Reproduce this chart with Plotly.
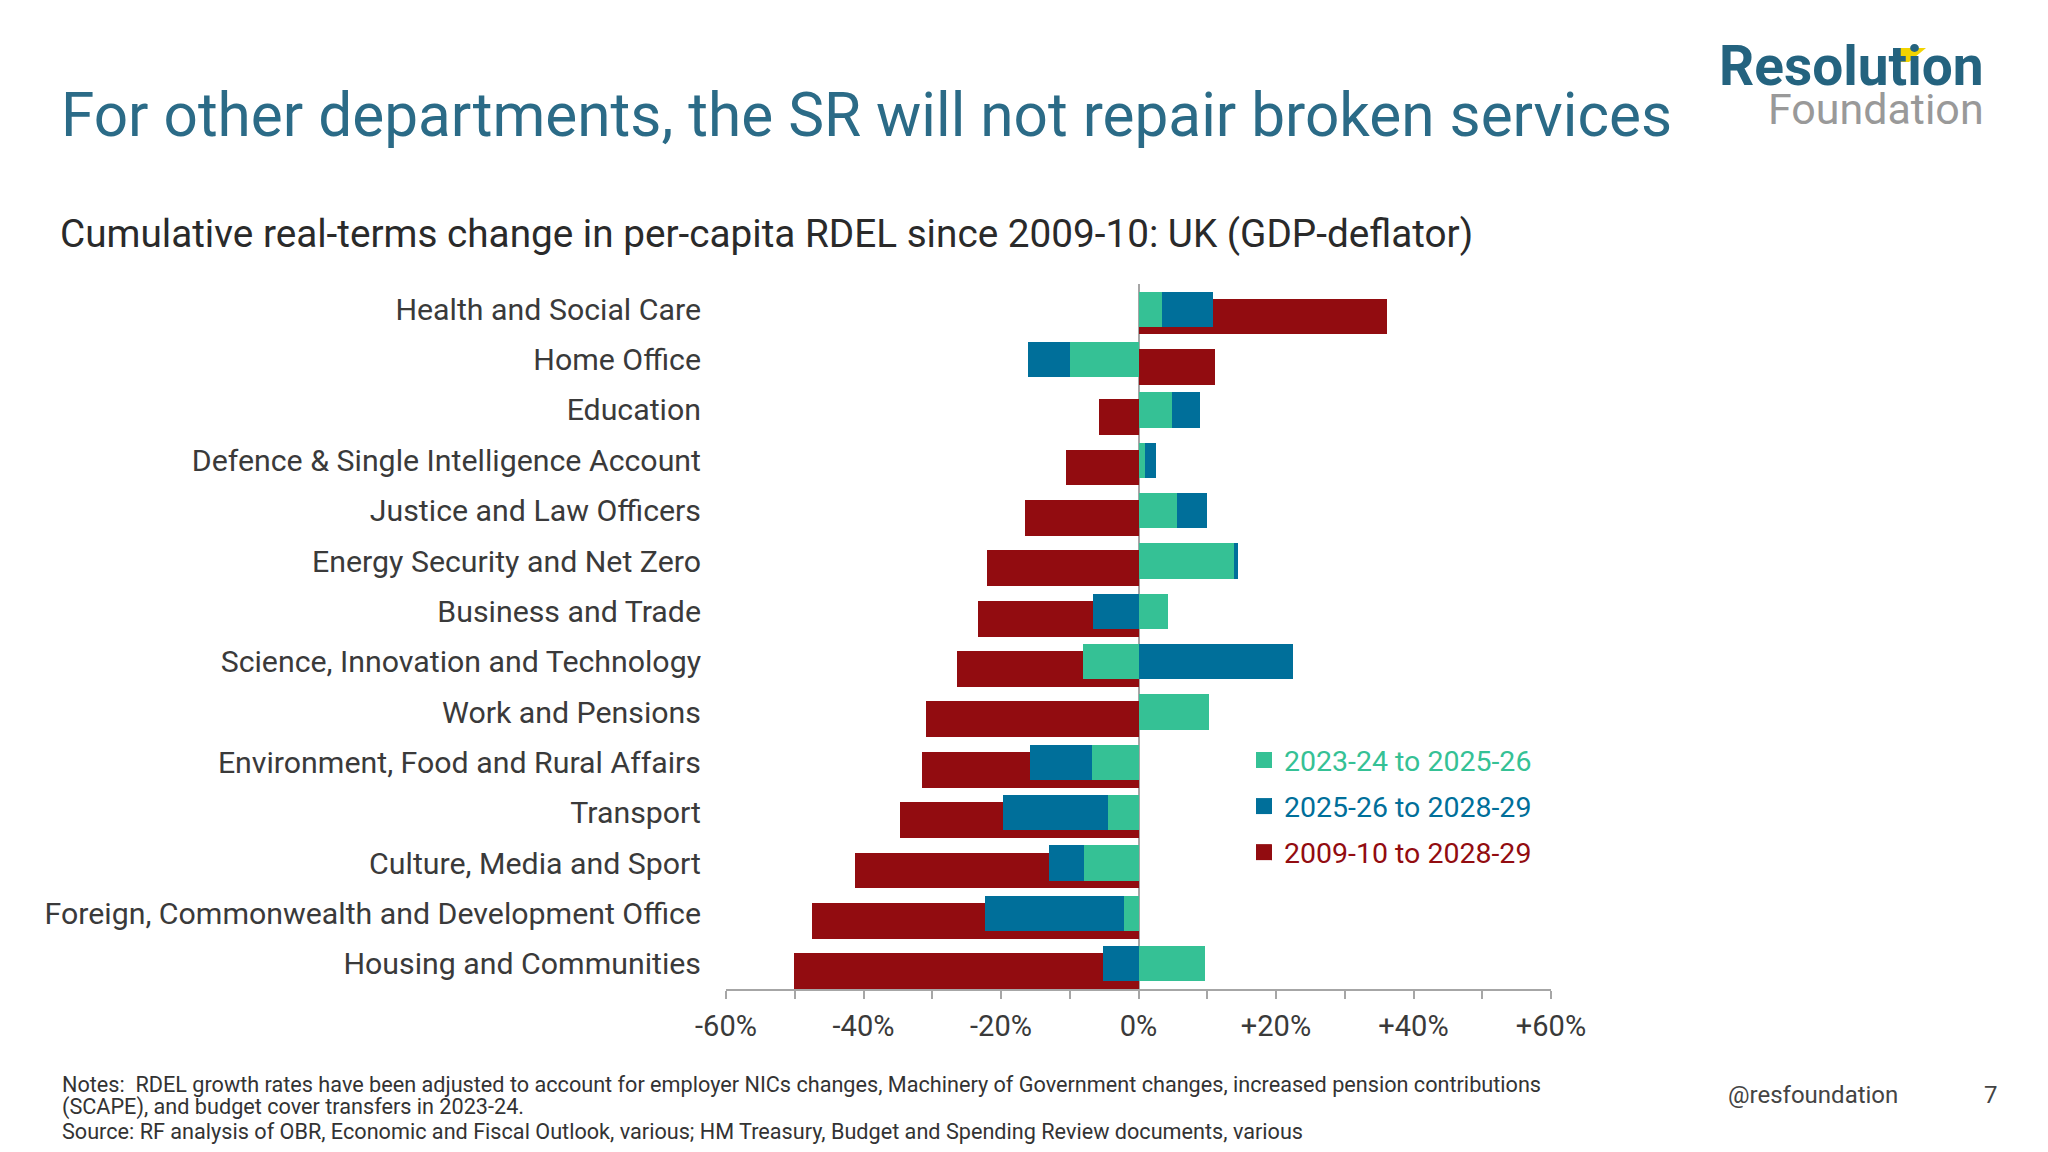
import plotly.graph_objects as go

# ---------------- data ----------------
departments = [
    "Health and Social Care",
    "Home Office",
    "Education",
    "Defence & Single Intelligence Account",
    "Justice and Law Officers",
    "Energy Security and Net Zero",
    "Business and Trade",
    "Science, Innovation and Technology",
    "Work and Pensions",
    "Environment, Food and Rural Affairs",
    "Transport",
    "Culture, Media and Sport",
    "Foreign, Commonwealth and Development Office",
    "Housing and Communities",
]
chg_2023_2025 = [3.4, -10.0, 4.9, 1.0, 5.6, 13.9, 4.3, -8.1, 10.2, -6.8, -4.5, -7.9, -2.1, 9.6]
chg_2025_2028 = [7.4, -6.1, 4.1, 1.5, 4.3, 0.5, -6.6, 22.5, 0.0, -9.0, -15.2, -5.1, -20.3, -5.1]
chg_2009_2028 = [36.1, 11.1, -5.7, -10.5, -16.5, -22.0, -23.4, -26.4, -30.9, -31.5, -34.7, -41.2, -47.5, -50.1]
series_names = ["2023-24 to 2025-26", "2025-26 to 2028-29", "2009-10 to 2028-29"]
x_tick_vals = [-60, -40, -20, 0, 20, 40, 60]
x_tick_text = ["-60%", "-40%", "-20%", "0%", "+20%", "+40%", "+60%"]

# ---------------- style ----------------
W_FIG, H_FIG = 2048, 1152
L, R, T, B = 718, 2048 - 1543, 276, 1152 - 981
PW, PH = W_FIG - L - R, H_FIG - T - B
TEAL, BLUE, RED = "#35c195", "#006f9a", "#920c10"
FONT = "Roboto, Lato, sans-serif"
TXT = "#3a3a3a"

def px(x):
    return (x - L) / PW

def py(y):
    return (H_FIG - B - y) / PH

pos = list(range(len(departments)))
red_pos = [p + 0.145 for p in pos]

fig = go.Figure()
fig.add_trace(go.Bar(y=red_pos, x=chg_2009_2028, orientation="h", width=0.71,
                     marker=dict(color=RED, line=dict(width=0)), showlegend=False))
fig.add_trace(go.Bar(y=pos, x=chg_2023_2025, orientation="h", width=0.70,
                     marker=dict(color=TEAL, line=dict(width=0)), showlegend=False))
fig.add_trace(go.Bar(y=pos, x=chg_2025_2028, orientation="h", width=0.70,
                     marker=dict(color=BLUE, line=dict(width=0)), showlegend=False))

# legend entries (square swatches, coloured text)
for name, col, rank in zip(series_names, [TEAL, BLUE, RED], [1, 2, 3]):
    fig.add_trace(go.Scatter(
        x=[None], y=[None], mode="markers",
        marker=dict(symbol="square", size=17, color=col),
        name=f"<span style='color:{col}'>{name}</span>",
        legendrank=rank, legendgroup=name, showlegend=True))

fig.update_layout(
    width=W_FIG, height=H_FIG,
    margin=dict(l=L, r=R, t=T, b=B),
    paper_bgcolor="white", plot_bgcolor="white",
    barmode="relative", bargap=0,
    font=dict(family=FONT, color=TXT),
    showlegend=True,
    legend=dict(x=px(1236), y=py(727), xanchor="left", yanchor="top",
                font=dict(size=28.5, family=FONT), bgcolor="rgba(0,0,0,0)",
                traceorder="grouped", tracegroupgap=6, itemwidth=30),
    xaxis=dict(range=[-60, 60], tickvals=x_tick_vals, ticktext=x_tick_text,
               showgrid=False, zeroline=True, zerolinecolor="#a6a6a6", zerolinewidth=1.5,
               showline=True, linecolor="#a6a6a6", linewidth=1.5,
               ticks="outside", ticklen=8, tickcolor="#a6a6a6", tickwidth=1.5,
               minor=dict(dtick=10, tick0=0, ticks="outside", ticklen=8,
                          tickcolor="#a6a6a6", tickwidth=1.5),
               tickfont=dict(size=29, color=TXT), ticklabelstandoff=2),
    yaxis=dict(range=[13.5, -0.5], tickvals=pos, ticktext=departments,
               showgrid=False, zeroline=False, showline=False, ticks="",
               tickfont=dict(size=30.3, color=TXT), ticklabelstandoff=24),
)

ann = [
    dict(text="For other departments, the SR will not repair broken services",
         x=px(51), y=py(107), font=dict(size=60.3, color="#2b6b87")),
    dict(text="Cumulative real-terms change in per-capita RDEL since 2009-10: UK (GDP-deflator)",
         x=px(50), y=py(225), font=dict(size=38.7, color="#2a2a2a")),
    dict(text="Notes:  RDEL growth rates have been adjusted to account for employer NICs changes, Machinery of Government changes, increased pension contributions",
         x=px(52), y=py(1076), font=dict(size=21.65, color="#333333")),
    dict(text="(SCAPE), and budget cover transfers in 2023-24.",
         x=px(52), y=py(1099), font=dict(size=21.65, color="#333333")),
    dict(text="Source: RF analysis of OBR, Economic and Fiscal Outlook, various; HM Treasury, Budget and Spending Review documents, various",
         x=px(52), y=py(1123), font=dict(size=21.65, color="#333333")),
    dict(text="@resfoundation", x=px(1718), y=py(1087), font=dict(size=24, color="#444444")),
    dict(text="7", x=px(1974), y=py(1087), font=dict(size=24, color="#444444")),
]
for a in ann:
    fig.add_annotation(xref="paper", yref="paper", xanchor="left", yanchor="middle",
                       showarrow=False, align="left", **a)

fig.add_annotation(
    text="<span style='font-size:55px;color:#24637f'><b>Resolution</b></span><br>"
         "<span style='font-size:43px;color:#999999'>Foundation</span>",
    xref="paper", yref="paper", x=px(1978), y=py(76), xanchor="right", yanchor="middle",
    showarrow=False, align="right", font=dict(size=30, color="#999999"))
fig.add_shape(type="path", xref="paper", yref="paper", layer="above",
              path=f"M {px(1891)},{py(40)} L {px(1918)},{py(40)} L {px(1901)},{py(54)} L {px(1891)},{py(54)} Z",
              fillcolor="#f2d400", line=dict(width=0))

fig.write_html("out.html")
